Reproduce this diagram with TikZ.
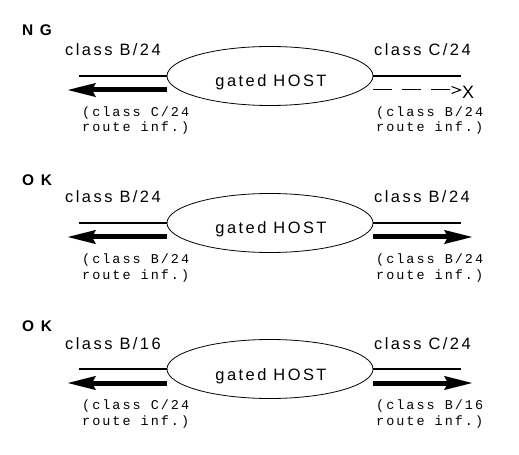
\documentclass[tikz,border=0pt]{standalone}
\usepackage{fontspec}
\setmainfont{Liberation Sans}
\newfontfamily\labelfont{Liberation Sans}[LetterSpace=15]
\newfontfamily\routefont{Liberation Mono}[LetterSpace=15]
\usetikzlibrary{arrows.meta,shapes.geometric}

\begin{document}
\begin{tikzpicture}[x=1bp,y=-1bp]
      \useasboundingbox (0,0) rectangle (519,455);

      \begin{scope}[every node/.style={ellipse,draw,line width=.8bp,minimum width=206bp,minimum height=59bp,inner sep=0pt}]
        \node (h1) at (270,76)  {};
        \node (h2) at (270,223) {};
        \node (h3) at (270,369) {};
      \end{scope}

      \begin{scope}[every node/.style={anchor=base,inner sep=0pt,font=\labelfont\fontsize{16.5}{19}\selectfont}]
        \node (g1) at (271,87)  {gated HOST};
        \node (g2) at (271,234) {gated HOST};
        \node (g3) at (271,380) {gated HOST};
      \end{scope}

      \begin{scope}[every node/.style={anchor=base west,inner sep=0pt,font=\labelfont\bfseries\fontsize{15.5}{18}\selectfont}]
        \node (v1) at (22,36)  {N G};
        \node (v2) at (22,186) {O K};
        \node (v3) at (22,331) {O K};
      \end{scope}

      \begin{scope}[every node/.style={anchor=base west,inner sep=0pt,font=\labelfont\fontsize{16.5}{19}\selectfont}]
        \node (l1) at (65,56)   {class B/24};
        \node (r1) at (374,56)  {class C/24};
        \node (l2) at (65,203)  {class B/24};
        \node (r2) at (374,203) {class B/24};
        \node (l3) at (65,349)  {class B/16};
        \node (r3) at (374,349) {class C/24};
        \node[font=\fontsize{18}{20}\selectfont] (x1) at (462,99) {X};
      \end{scope}

      \begin{scope}[every node/.style={anchor=base west,inner sep=0pt,align=left,font=\routefont\fontsize{13.5}{16}\selectfont}]
        \node (i1) at (82,132)  {(class C/24\\route inf.)};
        \node (j1) at (376,132) {(class B/24\\route inf.)};
        \node (i2) at (82,279)  {(class B/24\\route inf.)};
        \node (j2) at (376,279) {(class B/24\\route inf.)};
        \node (i3) at (82,425)  {(class C/24\\route inf.)};
        \node (j3) at (376,425) {(class B/16\\route inf.)};
      \end{scope}

      \coordinate (a1) at (79,76);  \coordinate (b1) at (461,76);
      \coordinate (a2) at (79,223); \coordinate (b2) at (461,223);
      \coordinate (a3) at (79,369); \coordinate (b3) at (461,369);
      \coordinate (p1) at (67,90);  \coordinate (d1) at (462,90);
      \coordinate (p2) at (67,237); \coordinate (q2) at (473,237);
      \coordinate (p3) at (67,383); \coordinate (q3) at (473,383);

      \begin{scope}[every edge/.style={draw,line width=1.6bp}]
        \path (h1.west) edge (a1);
        \path (h1.east) edge (b1);
        \path (h2.west) edge (a2);
        \path (h2.east) edge (b2);
        \path (h3.west) edge (a3);
        \path (h3.east) edge (b3);
      \end{scope}

      \begin{scope}[every edge/.style={draw,line width=5bp,-{Stealth[length=28bp,width=13bp,inset=3bp]}}]
        \path (h1.west |- p1) edge (p1);
        \path (h2.west |- p2) edge (p2);
        \path (h2.east |- q2) edge (q2);
        \path (h3.west |- p3) edge (p3);
        \path (h3.east |- q3) edge (q3);
      \end{scope}

      \path (h1.east |- d1) edge[draw,line width=1bp,dash pattern=on 19bp off 10bp,-{Straight Barb[length=9bp,width=7bp]}] (d1);

    \end{tikzpicture}
\end{document}
